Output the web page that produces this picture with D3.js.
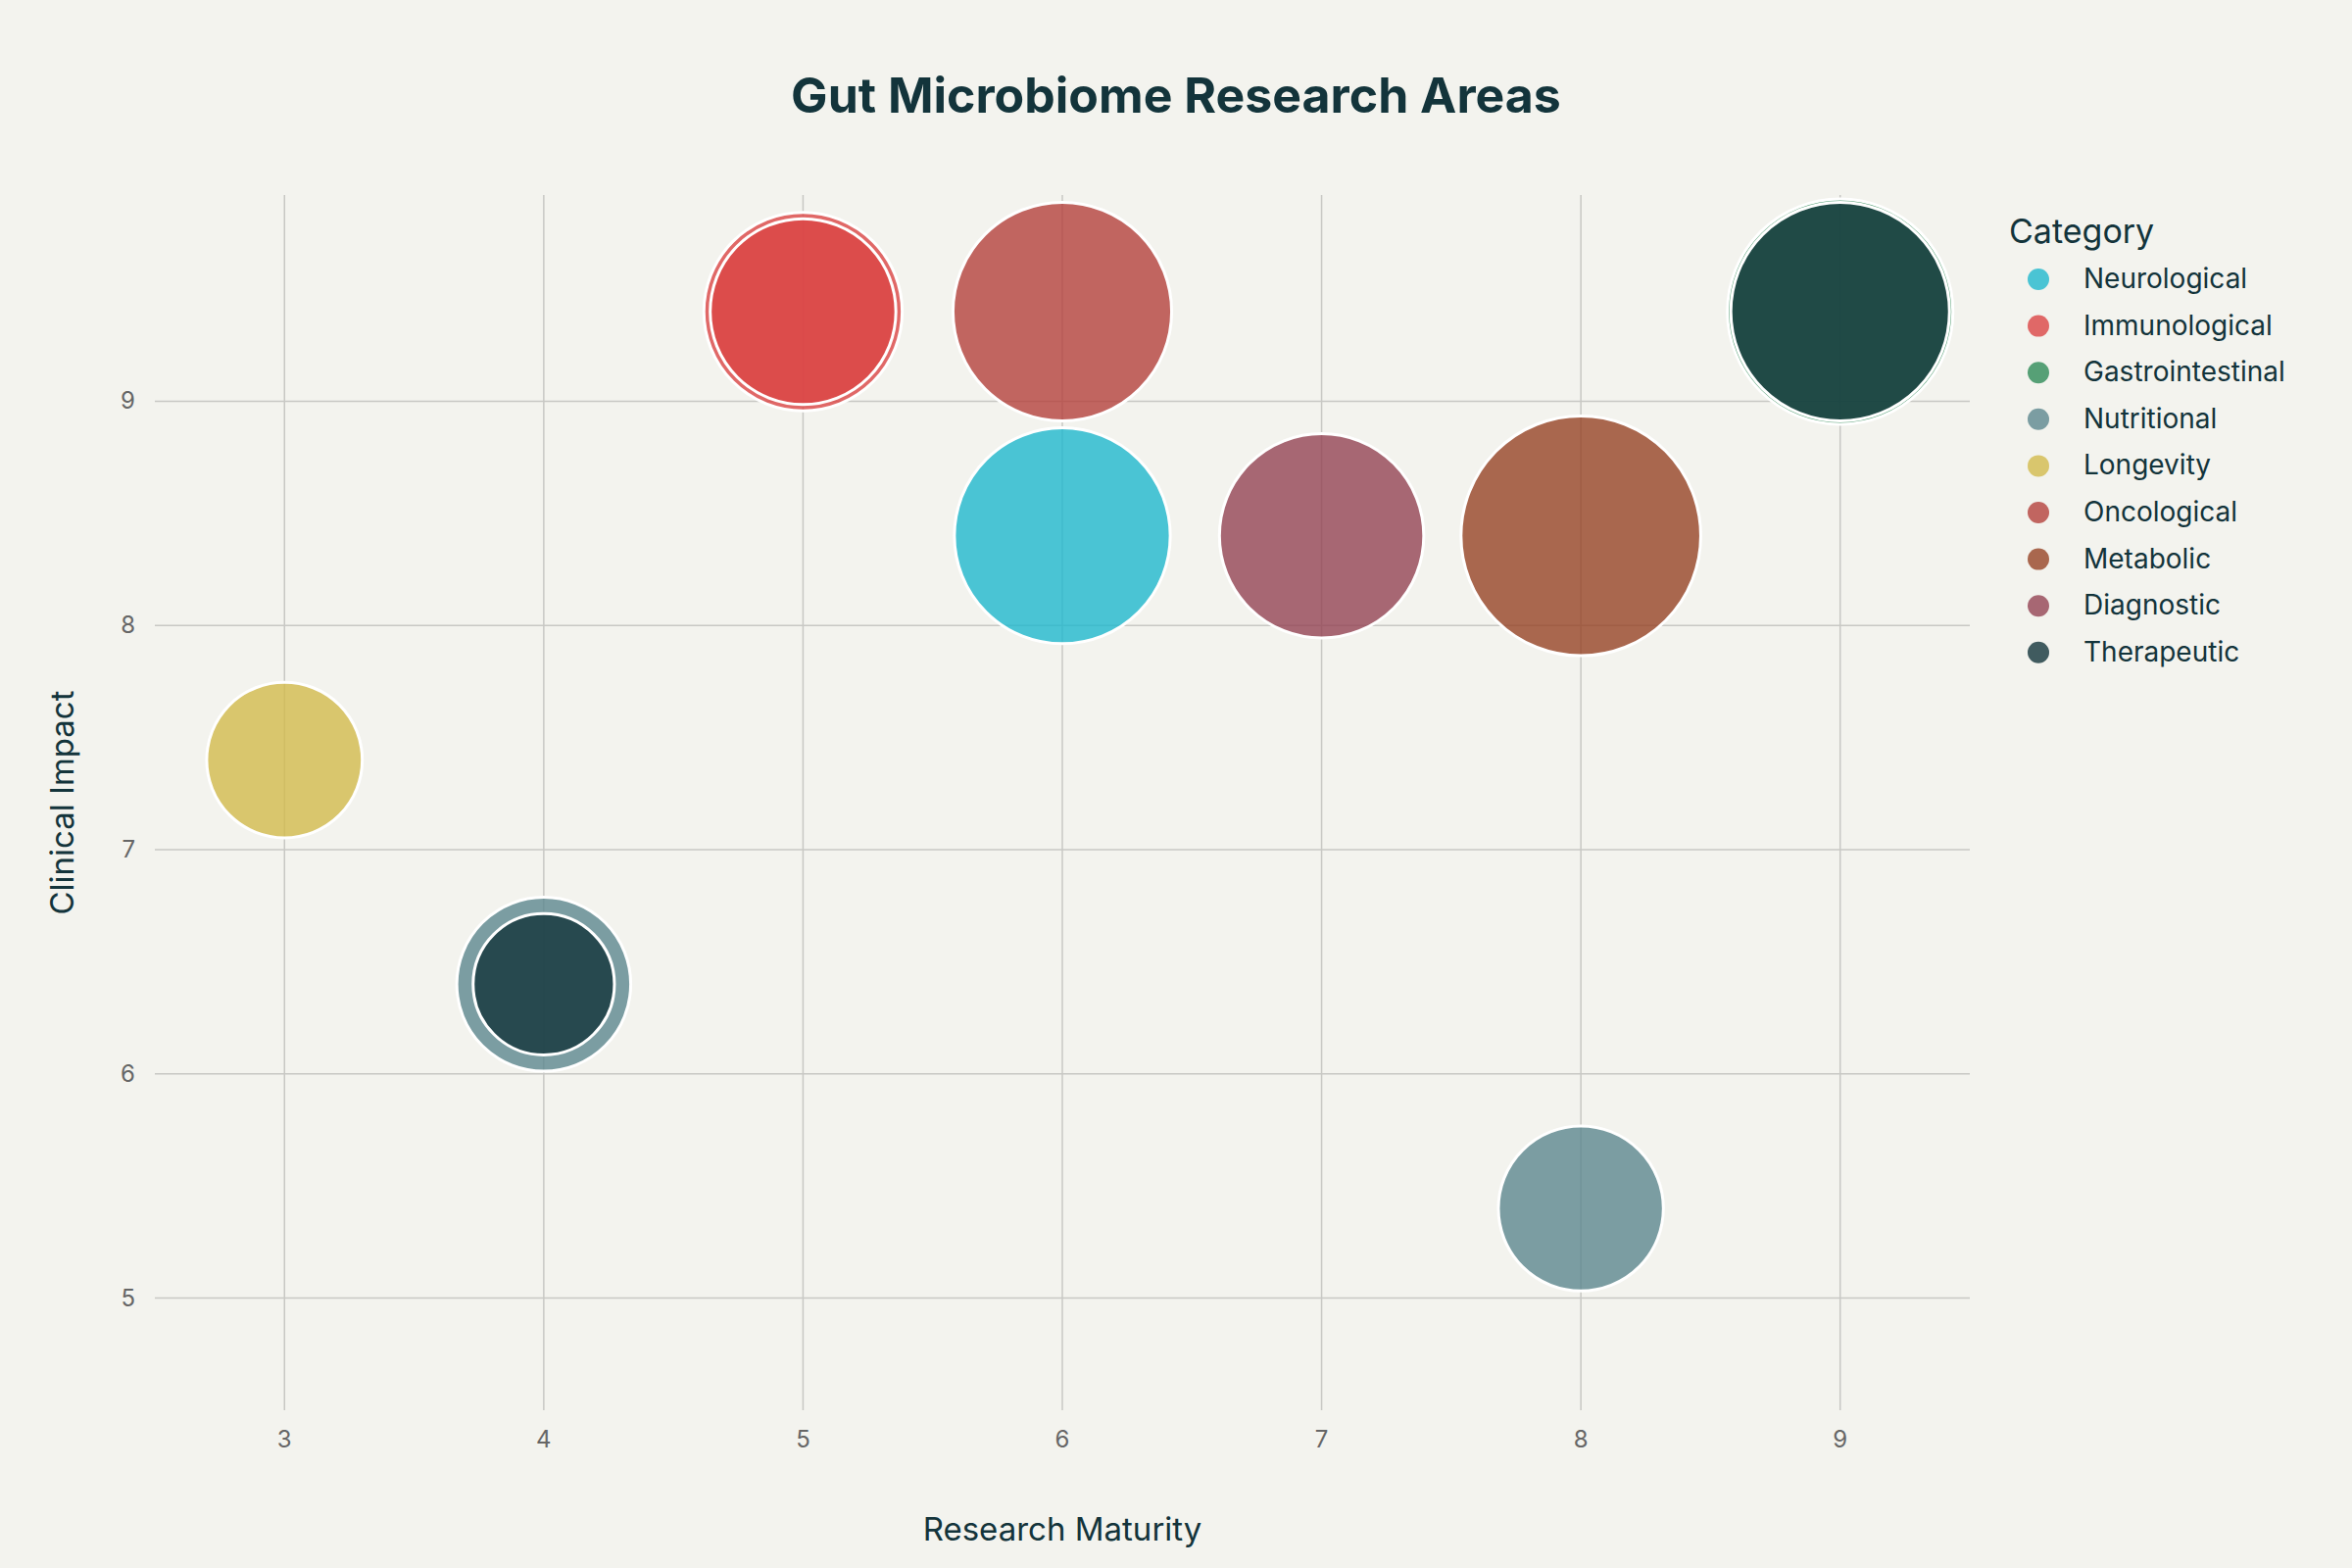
<!DOCTYPE html>
<html><head><meta charset="utf-8">
<script src="https://cdn.jsdelivr.net/npm/d3@7"></script>
<style>body{margin:0;background:#f3f3ee}</style></head>
<body><svg id="c" width="2400" height="1600"></svg>
<script>
const categories = ["Neurological","Immunological","Gastrointestinal","Nutritional","Longevity","Oncological","Metabolic","Diagnostic","Therapeutic"];
const colors = ["#1fb8cd","#db4545","#2e8b57","#5d878f","#d2ba4c","#b4413c","#964325","#944454","#13343b"];
const pointCategory = ["Neurological","Immunological","Immunological","Gastrointestinal","Nutritional","Nutritional","Longevity","Oncological","Metabolic","Diagnostic","Therapeutic","Therapeutic"];
const maturity = [6,5,5,9,4,8,3,6,8,7,9,4];
const impact = [8.4,9.4,9.4,9.4,6.4,5.4,7.4,9.4,8.4,8.4,9.4,6.4];
const sizes = [77,65,57,84,50,45,40,79,95,69,79,33];
const xTicks = [3,4,5,6,7,8,9];
const yTicks = [5,6,7,8,9];

const svg = d3.select("#c");
svg.append("rect").attr("width",2400).attr("height",1600).attr("fill","#f3f3ee");
const L=158,R=2010,T=199,B=1439;
const x = d3.scaleLinear().domain([2.5,9.5]).range([L,R]);
const y = d3.scaleLinear().domain([4.5,9.92]).range([B,T]);
const r = d3.scaleSqrt().domain([0,100]).range([0,125.5]);
const col = d3.scaleOrdinal().domain(categories).range(colors);
const font = "'Inter','Open Sans',sans-serif";

const g = svg.append("g");
g.selectAll(".gx").data(xTicks).join("line").attr("x1",d=>x(d)).attr("x2",d=>x(d)).attr("y1",T).attr("y2",B).attr("stroke","#c8c8c4").attr("stroke-width",1.5);
g.selectAll(".gy").data(yTicks).join("line").attr("y1",d=>y(d)).attr("y2",d=>y(d)).attr("x1",L).attr("x2",R).attr("stroke","#c8c8c4").attr("stroke-width",1.5);
g.selectAll(".tx").data(xTicks).join("text").attr("x",d=>x(d)).attr("y",B+38).attr("text-anchor","middle").attr("font-family",font).attr("font-size",24).attr("fill","#666").text(d=>d);
g.selectAll(".ty").data(yTicks).join("text").attr("x",L-20).attr("y",d=>y(d)+8).attr("text-anchor","end").attr("font-family",font).attr("font-size",24).attr("fill","#666").text(d=>d);

const pts = d3.range(maturity.length).map(i=>({c:pointCategory[i],x:maturity[i],y:impact[i],s:sizes[i]})).sort((a,b)=>b.s-a.s);
g.selectAll("circle.p").data(pts).join("circle").attr("cx",d=>x(d.x)).attr("cy",d=>y(d.y)).attr("r",d=>r(d.s))
 .attr("fill",d=>col(d.c)).attr("fill-opacity",0.8).attr("stroke","#fff").attr("stroke-width",3);

svg.append("text").attr("x",1200).attr("y",115).attr("text-anchor","middle").attr("font-family",font).attr("font-weight","bold").attr("font-size",50).attr("fill","#13343b").text("Gut Microbiome Research Areas");
svg.append("text").attr("x",(L+R)/2).attr("y",1572).attr("text-anchor","middle").attr("font-family",font).attr("font-size",33).attr("fill","#13343b").text("Research Maturity");
svg.append("text").attr("transform",`translate(75,${(T+B)/2}) rotate(-90)`).attr("text-anchor","middle").attr("font-family",font).attr("font-size",33).attr("fill","#13343b").text("Clinical Impact");

const lg = svg.append("g").attr("transform","translate(2050,0)");
lg.append("text").attr("x",0).attr("y",248).attr("font-family",font).attr("font-size",34).attr("fill","#13343b").text("Category");
categories.forEach((c,i)=>{
  const yy=285+i*47.6;
  lg.append("circle").attr("cx",30).attr("cy",yy).attr("r",11).attr("fill",colors[i]).attr("fill-opacity",0.8);
  lg.append("text").attr("x",76).attr("y",yy+9).attr("font-family",font).attr("font-size",28).attr("fill","#13343b").text(c);
});
</script></body></html>
